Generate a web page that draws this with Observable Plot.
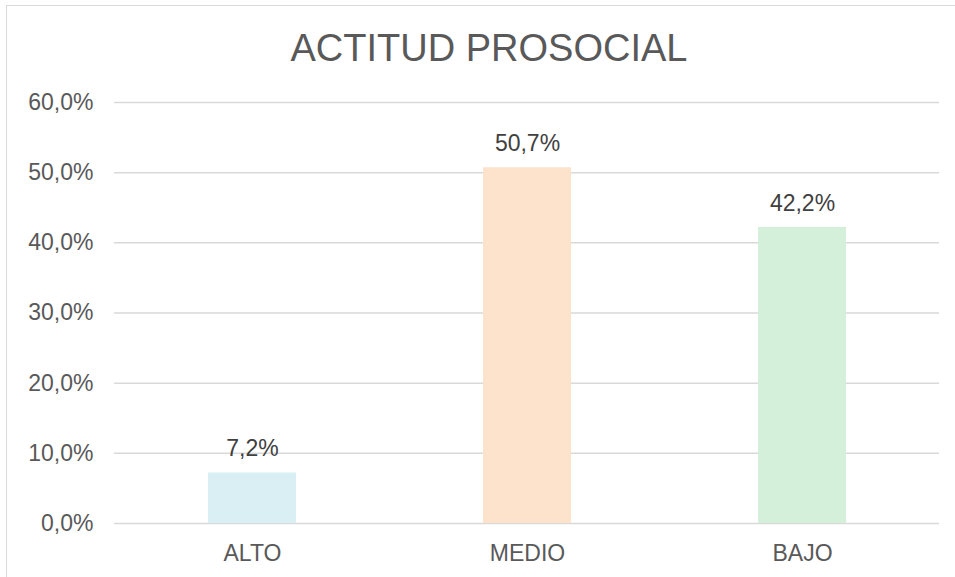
<!DOCTYPE html>
<html>
<head>
<meta charset="utf-8">
<script src="https://cdn.jsdelivr.net/npm/d3@7"></script>
<script src="https://cdn.jsdelivr.net/npm/@observablehq/plot@0.6"></script>
<style>
  body { margin: 0; background: #fff; }
  #wrap { position: relative; width: 955px; height: 577px; overflow: hidden; font-family: "Liberation Sans", Arial, sans-serif; }
  #frame { position: absolute; left: 6px; top: 5px; right: -10px; bottom: -10px; border-left: 1.5px solid #d9d9d9; border-top: 1.5px solid #d9d9d9; pointer-events: none; }
  #title { position: absolute; left: 23px; width: 932px; top: 29px; height: 40px; line-height: 1; font-size: 38px; color: #595959; text-align: center; }
  #chart { position: absolute; left: 0; top: 80px; }
</style>
</head>
<body>
<div id="wrap">
  <div id="frame"></div>
  <div id="title">ACTITUD PROSOCIAL</div>
  <div id="chart"></div>
</div>
<script>
const categories = ["ALTO", "MEDIO", "BAJO"];
const values = [7.2, 50.7, 42.2];
const colors = ["#DAEFF3", "#FDE2CC", "#D4F0DB"];
const yTicks = [0, 10, 20, 30, 40, 50, 60];

const data = categories.map((c, i) => ({cat: c, val: values[i], color: colors[i]}));
const fmtTick = d => d.toFixed(1).replace(".", ",") + "%";
const fmtVal = d => d.toFixed(1).replace(".", ",") + "%";

const chart = Plot.plot({
  width: 955,
  height: 497,
  marginTop: 22,
  marginBottom: 54,
  marginLeft: 114,
  marginRight: 16,
  style: {fontFamily: "'Liberation Sans', Arial, sans-serif", background: "transparent"},
  x: {domain: categories, paddingInner: 0.68, paddingOuter: 0.34, label: null},
  y: {domain: [0, 60], label: null},
  marks: [
    Plot.gridY(yTicks, {stroke: "#d9d9d9", strokeOpacity: 1, strokeWidth: 1.5}),
    Plot.barY(data, {x: "cat", y: "val", fill: "color"}),
    Plot.axisY(yTicks, {tickSize: 0, tickPadding: 21, tickFormat: fmtTick, fontSize: 23, fill: "#595959", label: null}),
    Plot.axisX({tickSize: 0, tickPadding: 21, fontSize: 23, fill: "#595959", label: null}),
    Plot.text(data, {x: "cat", y: "val", text: d => fmtVal(d.val), dy: -24, fontSize: 23, fill: "#404040"})
  ]
});
document.getElementById("chart").appendChild(chart);
</script>
</body>
</html>
